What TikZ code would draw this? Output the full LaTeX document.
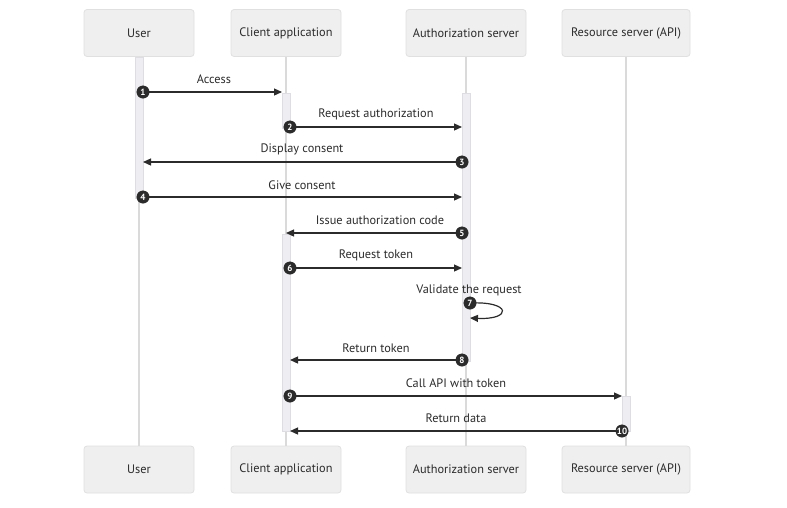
\documentclass[tikz,border=0pt]{standalone}
\usepackage{fontspec}
\setmainfont{PT Sans}
\usetikzlibrary{arrows.meta}
\definecolor{boxfill}{HTML}{EFEFF0}
\definecolor{boxline}{HTML}{E0E0E0}
\definecolor{lifel}{HTML}{DADADA}
\definecolor{actfill}{HTML}{EEEEF2}
\definecolor{actline}{HTML}{DDDDE2}
\definecolor{ink}{HTML}{2B2B2B}
\tikzset{
  actor/.style={draw=boxline, fill=boxfill, rounded corners=3pt, line width=0.8pt,
    minimum height=47pt, inner sep=0pt, text=ink, font=\fontsize{12.3}{14}\selectfont},
  lifeline/.style={draw=lifel, line width=1.6pt},
  actbox/.style={draw=actline, fill=actfill, line width=0.8pt},
  msg/.style={draw=ink, line width=1.2pt, -{Triangle[length=8pt,width=7pt]}},
  lbl/.style={text=ink, font=\fontsize{12.3}{14}\selectfont, inner sep=0pt},
  num/.style={circle, fill=ink, draw=ink, text=white, inner sep=0pt, minimum size=12.5pt,
    font=\fontsize{9}{10}\selectfont\bfseries}
}
\begin{document}
\begin{tikzpicture}[x=1pt,y=-1pt]
\useasboundingbox (0,0) rectangle (787,507);
% actors
\node[actor, minimum width=110pt] (tU) at (139,33) {User};
\node[actor, minimum width=110pt] (tC) at (286,33) {Client application};
\node[actor, minimum width=120pt] (tA) at (466,33) {Authorization server};
\node[actor, minimum width=128pt] (tR) at (626,33) {Resource server (API)};
\node[actor, minimum width=110pt] (bU) at (139,469.5) {User};
\node[actor, minimum width=110pt] (bC) at (286,469.5) {Client application};
\node[actor, minimum width=120pt] (bA) at (466,469.5) {Authorization server};
\node[actor, minimum width=128pt] (bR) at (626,469.5) {Resource server (API)};
% lifelines
\draw[lifeline] (tU.south) -- (bU.north);
\draw[lifeline] (tC.south) -- (bC.north);
\draw[lifeline] (tA.south) -- (bA.north);
\draw[lifeline] (tR.south) -- (bR.north);
% activation bars
\draw[actbox] (135,57) rectangle (143,198);
\draw[actbox] (282,93) rectangle (290,128);
\draw[actbox] (462,93) rectangle (470,361);
\draw[actbox] (282,234) rectangle (290,431);
\draw[actbox] (622,396) rectangle (630,431);
% message end points
\coordinate (s1) at (143,92);  \coordinate (e1) at (282,92);
\coordinate (s2) at (290,127); \coordinate (e2) at (462,127);
\coordinate (s3) at (462,162); \coordinate (e3) at (143,162);
\coordinate (s4) at (143,197); \coordinate (e4) at (462,197);
\coordinate (s5) at (462,233); \coordinate (e5) at (286,233);
\coordinate (s6) at (290,268); \coordinate (e6) at (462,268);
\coordinate (s7) at (470,303); \coordinate (e7) at (470,318);
\coordinate (s8) at (462,360); \coordinate (e8) at (290,360);
\coordinate (s9) at (290,396); \coordinate (e9) at (622,396);
\coordinate (s10) at (622,431); \coordinate (e10) at (290,431);
% messages
\draw[msg] (s1) -- (e1);
\draw[msg] (s2) -- (e2);
\draw[msg] (s3) -- (e3);
\draw[msg] (s4) -- (e4);
\draw[msg] (s5) -- (e5);
\draw[msg] (s6) -- (e6);
\draw[msg] (s7) .. controls (512,301) and (512,320) .. (e7);
\draw[msg] (s8) -- (e8);
\draw[msg] (s9) -- (e9);
\draw[msg] (s10) -- (e10);
% labels
\node[lbl] (l1) at (214,79) {Access};
\node[lbl] (l2) at (376,114) {Request authorization};
\node[lbl] (l3) at (302,149) {Display consent};
\node[lbl] (l4) at (302,185) {Give consent};
\node[lbl] (l5) at (380,220) {Issue authorization code};
\node[lbl] (l6) at (376,255) {Request token};
\node[lbl] (l7) at (469,290) {Validate the request};
\node[lbl] (l8) at (376,348) {Return token};
\node[lbl] (l9) at (456,383) {Call API with token};
\node[lbl] (l10) at (456,418) {Return data};
% numbers
\node[num] (n1) at (s1) {1};
\node[num] (n2) at (s2) {2};
\node[num] (n3) at (s3) {3};
\node[num] (n4) at (s4) {4};
\node[num] (n5) at (s5) {5};
\node[num] (n6) at (s6) {6};
\node[num] (n7) at (s7) {7};
\node[num] (n8) at (s8) {8};
\node[num] (n9) at (s9) {9};
\node[num] (n10) at (s10) {10};
\end{tikzpicture}
\end{document}
